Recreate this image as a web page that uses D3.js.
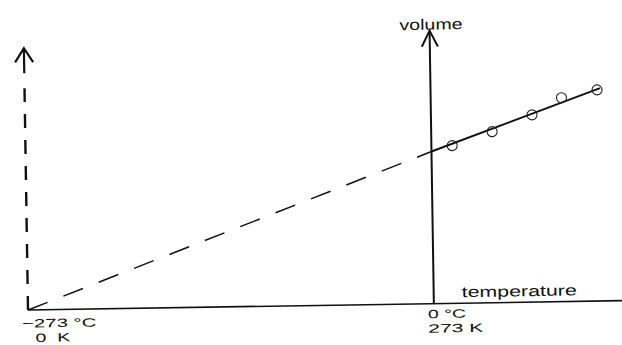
<!DOCTYPE html>
<html>
<head>
<meta charset="utf-8">
<script src="https://cdn.jsdelivr.net/npm/d3@7.9.0/dist/d3.min.js"></script>
<style>
  html, body { margin: 0; padding: 0; background: #fff; }
  svg text { font-family: "Liberation Sans", Arial, sans-serif; fill: #111; }
</style>
</head>
<body>
<svg id="chart" width="622" height="345"></svg>
<script>
// measured points (temperature in °C, volume in arbitrary units)
const tempC = [14, 41, 68, 88, 112];
const volume = [283, 307, 336, 366, 379];

// best-fit line through the points, and its extrapolation back to absolute zero
const fitTemps = [0, 114];
const fitVolumes = [273, 382];
const extrapTemps = [-273, 0];
const extrapVolumes = [0, 273];

// tick labels on the temperature axis
const tickTemps = [-273, 0];
const tickLabelsC = ['\u2212273 \u00B0C', '0 \u00B0C'];
const tickLabelsK = ['0  K', '273 K'];
const tickWidthsC = [74, 38];
const tickWidthsK = [35, 55];

const svg = d3.select('#chart');

// the scan is tilted by about a degree, so draw everything in a rotated frame
const g = svg.append('g')
  .attr('transform', 'translate(28,310) rotate(-0.9)');

const x = d3.scaleLinear().domain([-273, 126.5]).range([0, 594]);
const y = d3.scaleLinear().domain([0, 490]).range([0, -273]);

// horizontal temperature axis
g.append('line')
  .attr('x1', x(-273)).attr('x2', x(126.5))
  .attr('y1', y(0)).attr('y2', y(0))
  .attr('stroke', '#111').attr('stroke-width', 1.6);

// dashed axis at absolute zero
g.append('line')
  .attr('x1', x(-273)).attr('x2', x(-273))
  .attr('y1', y(0)).attr('y2', y(398))
  .attr('stroke', '#111').attr('stroke-width', 2.4)
  .attr('stroke-dasharray', '14 12');

g.append('line')
  .attr('x1', x(-273)).attr('x2', x(-273))
  .attr('y1', y(425)).attr('y2', y(470))
  .attr('stroke', '#111').attr('stroke-width', 2.2);

g.append('path')
  .attr('d', `M${x(-273) - 9},${y(470) + 14} L${x(-273)},${y(470)} L${x(-273) + 9},${y(470) + 14}`)
  .attr('fill', 'none').attr('stroke', '#111').attr('stroke-width', 2.2);

// volume axis at 0 °C
g.append('line')
  .attr('x1', x(0)).attr('x2', x(0))
  .attr('y1', y(0)).attr('y2', y(490))
  .attr('stroke', '#111').attr('stroke-width', 2);

g.append('path')
  .attr('d', `M${x(0) - 8},${y(490) + 16} L${x(0)},${y(490)} L${x(0) + 8},${y(490) + 16}`)
  .attr('fill', 'none').attr('stroke', '#111').attr('stroke-width', 2);

// extrapolated (dashed) line
const line = d3.line()
  .x((d) => x(d[0]))
  .y((d) => y(d[1]));

g.append('path')
  .attr('d', line(d3.zip(extrapTemps, extrapVolumes)))
  .attr('fill', 'none').attr('stroke', '#111').attr('stroke-width', 1.5)
  .attr('stroke-dasharray', '21 17');

// best-fit line
g.append('path')
  .attr('d', line(d3.zip(fitTemps, fitVolumes)))
  .attr('fill', 'none').attr('stroke', '#111').attr('stroke-width', 2);

// measured points
g.selectAll('circle.pt')
  .data(d3.zip(tempC, volume))
  .join('circle')
  .attr('class', 'pt')
  .attr('cx', (d) => x(d[0]))
  .attr('cy', (d) => y(d[1]))
  .attr('r', 5)
  .attr('fill', 'none')
  .attr('stroke', '#222')
  .attr('stroke-width', 1.1);

// tick labels (the scan is stretched sideways, so fix the text widths)
g.selectAll('text.tc')
  .data(tickTemps)
  .join('text')
  .attr('class', 'tc')
  .attr('x', (d) => x(d) - 6)
  .attr('y', (d, i) => (i === 0 ? 17.5 : 14.5))
  .attr('font-size', 12)
  .attr('textLength', (d, i) => tickWidthsC[i])
  .attr('lengthAdjust', 'spacingAndGlyphs')
  .style('white-space', 'pre')
  .text((d, i) => tickLabelsC[i]);

g.selectAll('text.tk')
  .data(tickTemps)
  .join('text')
  .attr('class', 'tk')
  .attr('x', (d, i) => x(d) + (i === 0 ? 7 : -6))
  .attr('y', (d, i) => (i === 0 ? 32 : 29))
  .attr('font-size', 12)
  .attr('textLength', (d, i) => tickWidthsK[i])
  .attr('lengthAdjust', 'spacingAndGlyphs')
  .style('white-space', 'pre')
  .text((d, i) => tickLabelsK[i]);

// axis titles
g.append('text')
  .attr('x', x(0) + 28)
  .attr('y', y(0) - 6)
  .attr('font-size', 15)
  .attr('textLength', 115)
  .attr('lengthAdjust', 'spacingAndGlyphs')
  .text('temperature');

g.append('text')
  .attr('x', x(0) - 30)
  .attr('y', y(490) - 1)
  .attr('font-size', 15)
  .attr('textLength', 63)
  .attr('lengthAdjust', 'spacingAndGlyphs')
  .text('volume');
</script>
</body>
</html>
